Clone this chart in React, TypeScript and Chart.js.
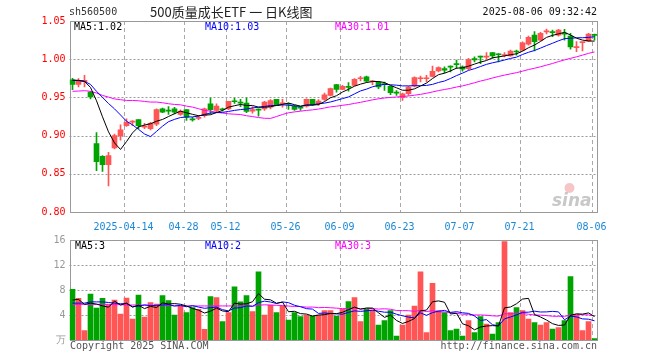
import React, { useEffect, useRef } from "react";
import { Chart, registerables } from "chart.js";
Chart.register(...registerables);

// ---------- data ----------
const dates = [
  "2025-03-31", "2025-04-01", "2025-04-02", "2025-04-03", "2025-04-07", "2025-04-08", "2025-04-09", "2025-04-10", "2025-04-11", "2025-04-14",
  "2025-04-15", "2025-04-16", "2025-04-17", "2025-04-18", "2025-04-21", "2025-04-22", "2025-04-23", "2025-04-24", "2025-04-25", "2025-04-28",
  "2025-04-29", "2025-04-30", "2025-05-06", "2025-05-07", "2025-05-08", "2025-05-09", "2025-05-12", "2025-05-13", "2025-05-14", "2025-05-15",
  "2025-05-16", "2025-05-19", "2025-05-20", "2025-05-21", "2025-05-22", "2025-05-23", "2025-05-26", "2025-05-27", "2025-05-28", "2025-05-29",
  "2025-05-30", "2025-06-03", "2025-06-04", "2025-06-05", "2025-06-06", "2025-06-09", "2025-06-10", "2025-06-11", "2025-06-12", "2025-06-13",
  "2025-06-16", "2025-06-17", "2025-06-18", "2025-06-19", "2025-06-20", "2025-06-23", "2025-06-24", "2025-06-25", "2025-06-26", "2025-06-27",
  "2025-06-30", "2025-07-01", "2025-07-02", "2025-07-03", "2025-07-04", "2025-07-07", "2025-07-08", "2025-07-09", "2025-07-10", "2025-07-11",
  "2025-07-14", "2025-07-15", "2025-07-16", "2025-07-17", "2025-07-18", "2025-07-21", "2025-07-22", "2025-07-23", "2025-07-24", "2025-07-25",
  "2025-07-28", "2025-07-29", "2025-07-30", "2025-07-31", "2025-08-01", "2025-08-04", "2025-08-05", "2025-08-06",
];

const opens = [
  0.973, 0.967, 0.9706, 0.957, 0.8895, 0.873, 0.862, 0.884, 0.9, 0.913,
  0.9175, 0.921, 0.911, 0.909, 0.915, 0.935, 0.9325, 0.935, 0.9276, 0.934,
  0.921, 0.9225, 0.9263, 0.9417, 0.933, 0.934, 0.935, 0.9447, 0.943, 0.9425,
  0.932, 0.9338, 0.935, 0.9373, 0.9474, 0.9415, 0.9412, 0.9382, 0.9362, 0.9386,
  0.9474, 0.9417, 0.9474, 0.9526, 0.9667, 0.9605, 0.9636, 0.9658, 0.9744, 0.9768,
  0.9705, 0.97, 0.9672, 0.9645, 0.9558, 0.9496, 0.9548, 0.965, 0.9744, 0.9744,
  0.9776, 0.9847, 0.9877, 0.9901, 0.9932, 0.9899, 0.9877, 1.0009, 1.0032, 1.0028,
  1.0088, 1.0062, 1.0048, 1.0044, 1.0098, 1.0118, 1.0198, 1.0316, 1.025, 1.0358,
  1.0352, 1.0316, 1.0333, 1.0303, 1.0152, 1.0217, 1.0237, 1.032,
];

const closes = [
  0.967, 0.972, 0.9724, 0.9505, 0.866, 0.862, 0.8737, 0.9, 0.9075, 0.9175,
  0.919, 0.913, 0.912, 0.916, 0.934, 0.9307, 0.932, 0.9307, 0.932, 0.924,
  0.9205, 0.923, 0.935, 0.934, 0.9386, 0.9338, 0.9447, 0.9443, 0.9425, 0.9316,
  0.9342, 0.9334, 0.944, 0.946, 0.9395, 0.9419, 0.941, 0.9342, 0.936, 0.9474,
  0.9404, 0.9452, 0.9535, 0.9614, 0.9605, 0.9645, 0.9632, 0.9737, 0.9748, 0.9711,
  0.9709, 0.9636, 0.9668, 0.9561, 0.9555, 0.9548, 0.9636, 0.976, 0.9748, 0.9748,
  0.9842, 0.989, 0.9855, 0.9897, 0.9928, 0.9868, 0.9996, 0.999, 1.0028, 1.0032,
  1.0044, 1.0058, 1.0053, 1.0105, 1.0094, 1.0215, 1.0285, 1.0228, 1.0338, 1.0362,
  1.0348, 1.0382, 1.0329, 1.0162, 1.0156, 1.0221, 1.0329, 1.0312,
];

const highs = [
  0.975, 0.9746, 0.979, 0.958, 0.904, 0.8737, 0.878, 0.902, 0.914, 0.922,
  0.9197, 0.921, 0.916, 0.9175, 0.935, 0.936, 0.938, 0.937, 0.9338, 0.934,
  0.924, 0.926, 0.936, 0.949, 0.9417, 0.936, 0.945, 0.949, 0.9474, 0.9496,
  0.938, 0.935, 0.945, 0.947, 0.9474, 0.9474, 0.943, 0.9395, 0.938, 0.9482,
  0.9474, 0.947, 0.9557, 0.9623, 0.967, 0.9658, 0.9693, 0.9746, 0.9776, 0.978,
  0.9724, 0.971, 0.97, 0.9645, 0.959, 0.9557, 0.9645, 0.9768, 0.978, 0.979,
  0.991, 0.9899, 0.9899, 0.9912, 0.9987, 0.9912, 1.001, 1.003, 1.004, 1.0088,
  1.0088, 1.0075, 1.0088, 1.0118, 1.0118, 1.0228, 1.0303, 1.036, 1.0351, 1.0395,
  1.0382, 1.039, 1.039, 1.034, 1.023, 1.0221, 1.0338, 1.033,
];

const lows = [
  0.96, 0.9636, 0.9636, 0.948, 0.854, 0.853, 0.834, 0.8825, 0.894, 0.912,
  0.913, 0.909, 0.909, 0.9075, 0.913, 0.93, 0.9276, 0.9285, 0.9263, 0.92,
  0.919, 0.921, 0.924, 0.9285, 0.93, 0.932, 0.934, 0.942, 0.938, 0.93,
  0.9294, 0.9254, 0.933, 0.935, 0.9395, 0.9373, 0.9342, 0.933, 0.933, 0.9373,
  0.9395, 0.9395, 0.946, 0.9518, 0.957, 0.96, 0.9583, 0.9649, 0.9715, 0.97,
  0.9667, 0.9614, 0.959, 0.9535, 0.9526, 0.946, 0.9526, 0.9636, 0.9702, 0.9702,
  0.9768, 0.9833, 0.982, 0.9833, 0.9877, 0.9842, 0.9864, 0.9965, 0.9943, 0.9996,
  1.001, 0.9965, 1.0031, 1.004, 1.0053, 1.011, 1.0185, 1.011, 1.0241, 1.033,
  1.0294, 1.0303, 1.025, 1.013, 1.0097, 1.011, 1.0228, 1.025,
];

// volume in 万
const volumes = [
  8.1, 6.67, 1.5, 7.36, 5.12, 6.67, 5.6, 6.4, 4.16, 6.72,
  3.36, 7.2, 3.68, 5.97, 5.76, 7.1, 6.3, 4.0, 5.44, 4.37,
  5.17, 4.9, 1.7, 6.93, 6.77, 2.93, 4.37, 8.5, 6.1, 7.1,
  4.53, 10.9, 4.0, 5.6, 4.37, 5.44, 3.2, 4.37, 3.73, 4.0,
  3.84, 4.0, 4.7, 4.7, 3.84, 4.9, 6.13, 6.77, 2.93, 4.9,
  4.8, 2.4, 3.1, 4.7, 0.64, 2.4, 4.0, 5.44, 10.9, 1.17,
  9.07, 4.7, 4.37, 1.5, 1.76, 0.64, 3.1, 1.17, 3.73, 2.56,
  0.96, 2.77, 15.73, 4.37, 5.17, 4.7, 3.36, 2.77, 2.4, 2.77,
  1.76, 1.97, 3.1, 10.13, 4.0, 1.5, 2.93, 0.21,
];

const ma5Head = [0.9724, 0.9724, 0.971, 0.963];
const ma10Head = [0.9724, 0.972, 0.971, 0.967, 0.958, 0.95, 0.942, 0.935, 0.927];
const ma30Head = [
  0.958, 0.9583, 0.9588, 0.958, 0.9557, 0.9526, 0.9504, 0.948, 0.947, 0.946,
  0.946, 0.9456, 0.9447, 0.9439, 0.9439, 0.943, 0.9417, 0.9408, 0.9403, 0.9386,
  0.9373, 0.9352, 0.933, 0.932, 0.9305, 0.9295, 0.9285, 0.928, 0.9276,
];
const volMa5Head = [6.4, 6.5, 5.7, 5.9];
const volMa10Head = [5.9, 5.9, 5.9, 6.1, 6.1, 6.1, 6.0, 5.9, 5.8];
const volMa30Head = [
  5.7, 5.7, 5.7, 5.7, 5.7, 5.7, 5.7, 5.65, 5.65, 5.6,
  5.6, 5.6, 5.55, 5.55, 5.5, 5.5, 5.5, 5.5, 5.45, 5.45,
  5.45, 5.45, 5.45, 5.45, 5.45, 5.45, 5.45, 5.45, 5.45,
];

const tickDates = ["2025-04-14", "2025-04-28", "2025-05-12", "2025-05-26", "2025-06-09", "2025-06-23", "2025-07-07", "2025-07-21", "2025-08-06"];
const tickTexts = ["2025-04-14", "04-28", "05-12", "05-26", "06-09", "06-23", "07-07", "07-21", "08-06"];
const priceTicks = [0.8, 0.85, 0.9, 0.95, 1.0, 1.05];
const volTicks = [0, 4, 8, 12, 16];

const code = "sh560500";
const title = "500质量成长ETF 一 日K线图";
const stamp = "2025-08-06 09:32:42";
const priceMaTexts = ["MA5:1.02", "MA10:1.03", "MA30:1.01"];
const volMaTexts = ["MA5:3", "MA10:2", "MA30:3"];
const volUnit = "万";
const copyright = "Copyright 2025 SINA.COM";
const siteUrl = "http://finance.sina.com.cn";

// ---------- helpers ----------
const RED = "#ff5555";
const GREEN = "#00a400";
const MONO = '"DejaVu Sans Mono", "Liberation Mono", monospace';

function movingAverage(values: number[], n: number, head: number[]) {
  return values.map((_, i) => {
    if (i < n - 1) return head[i];
    let s = 0;
    for (let k = i - n + 1; k <= i; k++) s += values[k];
    return s / n;
  });
}

const candleColors = closes.map((c, i) => (c >= opens[i] ? RED : GREEN));
const tickIndexMap = new Map<number, string>();
tickDates.forEach((d, k) => tickIndexMap.set(dates.indexOf(d), tickTexts[k]));
const tickIndexes = Array.from(tickIndexMap.keys());

type TextItem = { t: string; x: number; y: number; color: string; font: string; align?: CanvasTextAlign };

function textPlugin(id: string, items: TextItem[]) {
  return {
    id,
    afterDraw(chart: any) {
      const ctx = chart.ctx;
      ctx.save();
      ctx.textBaseline = "middle";
      for (const it of items) {
        ctx.font = it.font;
        ctx.fillStyle = it.color;
        ctx.textAlign = it.align || "left";
        ctx.fillText(it.t, it.x, it.y);
      }
      ctx.restore();
    },
  };
}

// grid + frame drawn from the chart's own scales
function gridPlugin(id: string, yValues: number[]) {
  return {
    id,
    beforeDatasetsDraw(chart: any) {
      const { ctx, chartArea: a } = chart;
      const xs = chart.scales.x;
      const ys = chart.scales.y;
      const step = (xs.right - xs.left) / dates.length;
      ctx.save();
      ctx.lineWidth = 1;
      // vertical dashed lines at the left edge of the labelled day
      ctx.strokeStyle = "#a8a8a8";
      ctx.setLineDash([4, 3]);
      for (const idx of tickIndexes) {
        const px = Math.round(xs.getPixelForValue(idx) - step / 2) + 0.5;
        ctx.beginPath();
        ctx.moveTo(px, a.top);
        ctx.lineTo(px, a.bottom);
        ctx.stroke();
      }
      // horizontal dotted lines
      ctx.strokeStyle = "#9a9a9a";
      ctx.setLineDash([2, 2]);
      for (const v of yValues.slice(1, -1)) {
        const py = Math.round(ys.getPixelForValue(v)) + 0.5;
        ctx.beginPath();
        ctx.moveTo(a.left, py);
        ctx.lineTo(a.right, py);
        ctx.stroke();
      }
      // frame
      ctx.setLineDash([]);
      ctx.strokeStyle = "#999";
      const l = Math.round(a.left) + 0.5;
      const r = Math.round(a.right) - 0.5;
      const t = Math.round(a.top) + 0.5;
      const b = Math.round(a.bottom) + 0.5;
      ctx.strokeRect(l, t, r - l, b - t);
      ctx.restore();
    },
  };
}

const watermarkPlugin = {
  id: "watermark",
  beforeDatasetsDraw(chart: any) {
    const { ctx, chartArea: a } = chart;
    ctx.save();
    ctx.font = 'italic bold 17px "DejaVu Sans", sans-serif';
    ctx.fillStyle = "rgba(190,190,190,0.85)";
    ctx.textAlign = "right";
    ctx.textBaseline = "alphabetic";
    ctx.fillText("sina", a.right - 6, a.bottom - 6);
    ctx.fillStyle = "rgba(240,150,150,0.55)";
    ctx.beginPath();
    ctx.arc(a.right - 28, a.bottom - 24, 5, 0, Math.PI * 2);
    ctx.fill();
    ctx.restore();
  },
};

function xScale(showLabels: boolean, height: number) {
  return {
    offset: true,
    grid: { display: false, drawTicks: false },
    border: { display: false },
    ticks: {
      display: showLabels,
      autoSkip: false,
      maxRotation: 0,
      minRotation: 0,
      padding: 9,
      labelOffset: -3,
      color: "#1a88d8",
      font: { family: MONO, size: 10 },
      callback: (_v: any, i: number) => tickIndexMap.get(i) || "",
    },
    afterFit: (s: any) => {
      s.height = height;
    },
  };
}

function yScale(ticks: number[], color: string, fmt: (v: number) => string) {
  return {
    min: ticks[0],
    max: ticks[ticks.length - 1],
    afterBuildTicks: (s: any) => {
      s.ticks = ticks.map((v) => ({ value: v }));
    },
    ticks: {
      padding: 4,
      color,
      font: { family: MONO, size: 10 },
      callback: (v: any) => fmt(Number(v)),
    },
    grid: { display: false, drawTicks: false },
    border: { display: false },
    afterFit: (s: any) => {
      s.width = 69.5;
    },
  };
}

export default function App() {
  const priceRef = useRef<HTMLCanvasElement>(null);
  const volRef = useRef<HTMLCanvasElement>(null);

  useEffect(() => {
    const ma5 = movingAverage(closes, 5, ma5Head);
    const ma10 = movingAverage(closes, 10, ma10Head);
    const ma30 = movingAverage(closes, 30, ma30Head);
    const vma5 = movingAverage(volumes, 5, volMa5Head);
    const vma10 = movingAverage(volumes, 10, volMa10Head);
    const vma30 = movingAverage(volumes, 30, volMa30Head);

    const lineDs = (label: string, data: number[], color: string) => ({
      type: "line" as const,
      label,
      data,
      borderColor: color,
      backgroundColor: color,
      borderWidth: 1,
      pointRadius: 0,
      tension: 0,
      order: 0,
    });

    const headerItems: TextItem[] = [
      { t: code, x: 69, y: 12, color: "#333", font: `10px ${MONO}` },
      { t: title, x: 150, y: 12, color: "#222", font: '13px "Noto Sans CJK SC", sans-serif' },
      { t: stamp, x: 597, y: 12, color: "#111", font: `10px ${MONO}`, align: "right" },
      { t: priceMaTexts[0], x: 74, y: 27, color: "#000", font: `10px ${MONO}` },
      { t: priceMaTexts[1], x: 205, y: 27, color: "#0000ff", font: `10px ${MONO}` },
      { t: priceMaTexts[2], x: 335, y: 27, color: "#ff00ff", font: `10px ${MONO}` },
    ];

    const priceChart = new Chart(priceRef.current as HTMLCanvasElement, {
      type: "bar",
      data: {
        labels: dates,
        datasets: [
          lineDs("MA5", ma5, "#000000"),
          lineDs("MA10", ma10, "#0000ff"),
          lineDs("MA30", ma30, "#ff00ff"),
          {
            type: "bar",
            label: "body",
            data: opens.map((o, i) => [o, closes[i]]),
            backgroundColor: candleColors,
            barThickness: 5,
            minBarLength: 1,
            grouped: false,
            order: 1,
          } as any,
          {
            type: "bar",
            label: "wick",
            data: lows.map((l, i) => [l, highs[i]]),
            backgroundColor: candleColors,
            barThickness: 1,
            grouped: false,
            order: 2,
          } as any,
        ],
      },
      options: {
        animation: false,
        responsive: true,
        maintainAspectRatio: false,
        layout: { padding: { left: 0, top: 21, right: 62.5, bottom: 0 } },
        plugins: { legend: { display: false }, tooltip: { enabled: false } },
        scales: {
          x: xScale(true, 24) as any,
          y: yScale(priceTicks, "#ff0000", (v) => v.toFixed(2)) as any,
        },
      },
      plugins: [gridPlugin("pgrid", priceTicks), watermarkPlugin, textPlugin("hdr", headerItems)],
    });

    const volItems: TextItem[] = [
      { t: volMaTexts[0], x: 75, y: 20, color: "#000", font: `10px ${MONO}` },
      { t: volMaTexts[1], x: 205, y: 20, color: "#0000ff", font: `10px ${MONO}` },
      { t: volMaTexts[2], x: 335, y: 20, color: "#ff00ff", font: `10px ${MONO}` },
      { t: copyright, x: 70, y: 120, color: "#555", font: `10px ${MONO}` },
      { t: siteUrl, x: 597, y: 120, color: "#555", font: `10px ${MONO}`, align: "right" },
    ];

    const volChart = new Chart(volRef.current as HTMLCanvasElement, {
      type: "bar",
      data: {
        labels: dates,
        datasets: [
          lineDs("VMA5", vma5, "#000000"),
          lineDs("VMA10", vma10, "#0000ff"),
          lineDs("VMA30", vma30, "#ff00ff"),
          {
            type: "bar",
            label: "volume",
            data: volumes,
            backgroundColor: candleColors,
            barThickness: 5,
            grouped: false,
            order: 1,
          } as any,
        ],
      },
      options: {
        animation: false,
        responsive: true,
        maintainAspectRatio: false,
        layout: { padding: { left: 0, top: 14, right: 62.5, bottom: 0 } },
        plugins: { legend: { display: false }, tooltip: { enabled: false } },
        scales: {
          x: xScale(false, 20) as any,
          y: yScale(volTicks, "#999", (v) => (v === 0 ? volUnit : String(v))) as any,
        },
      },
      plugins: [gridPlugin("vgrid", volTicks), textPlugin("vol", volItems)],
    });

    return () => {
      priceChart.destroy();
      volChart.destroy();
    };
  }, []);

  return (
    <div style={{ position: "fixed", left: 0, top: 0, width: 660, height: 360, background: "#fff" }}>
      <div style={{ position: "absolute", left: 0, top: 0, width: 660, height: 236 }}>
        <canvas ref={priceRef} />
      </div>
      <div style={{ position: "absolute", left: 0, top: 226, width: 660, height: 134 }}>
        <canvas ref={volRef} />
      </div>
    </div>
  );
}
